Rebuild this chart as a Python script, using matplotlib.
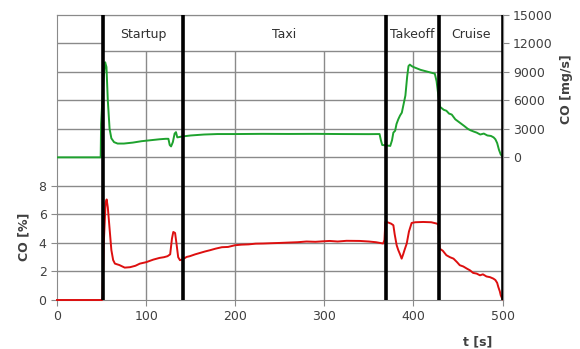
import matplotlib.pyplot as plt

# Фази руху та межі між ними (с)
phase_names = ['Startup', 'Taxi', 'Takeoff', 'Cruise']
phase_bounds = [52, 141, 369, 429, 500]

# CO [mg/s] — права вісь (зелена крива)
t_mgs = [0, 49, 49.5, 52, 54, 55.5, 57, 59, 61, 64, 68, 75, 85, 95, 105, 115, 122, 125,
         126.5, 128, 130, 132, 133.5, 135, 138, 141, 150, 165, 180, 200, 230, 260, 290,
         320, 350, 362, 363.5, 365, 370, 374, 376, 377.5, 379.5, 381, 383, 385, 387, 389,
         391, 393, 394.5, 396, 398, 400, 404, 408, 412, 416, 420, 424, 426, 428, 430, 434,
         437, 440, 443, 447, 452, 457, 461, 464, 468, 471, 475, 479, 483, 487, 490, 492,
         494, 496, 498, 500]
co_mgs = [0, 0, 3500, 8000, 10000, 9500, 6000, 3000, 2000, 1600, 1450, 1450, 1550, 1700,
          1800, 1900, 1950, 1950, 1300, 1150, 1600, 2500, 2650, 2100, 2150, 2200, 2300,
          2400, 2450, 2450, 2470, 2460, 2470, 2450, 2440, 2450, 1800, 1300, 1250, 1200,
          1800, 2600, 2800, 3500, 4000, 4400, 4700, 5600, 6500, 8500, 9600, 9750, 9600,
          9500, 9350, 9200, 9100, 9000, 8900, 8800, 8000, 6500, 5300, 5000, 4900, 4600,
          4500, 4000, 3650, 3300, 3000, 2850, 2700, 2600, 2400, 2500, 2300, 2250, 2100,
          1900, 1500, 800, 300, 100]

# CO [%] — ліва вісь (червона крива)
t_pct = [0, 50.5, 51, 52.5, 54.5, 55.7, 57, 59, 61, 63, 65, 70, 76, 82, 88, 93, 100, 108, 115,
         120, 124, 127, 129, 130.5, 132.5, 134, 136, 138, 141, 145.5, 149, 155, 160.5, 166,
         171.7, 178, 185, 192, 199.8, 207, 215, 223, 231.5, 240, 250, 261.5, 270, 280, 290,
         300, 306, 315, 325, 340, 350, 358, 366, 367.5, 368.5, 371.8, 375, 377.5, 379, 381.2,
         383, 385, 386.8, 388.5, 390, 392.5, 395, 398, 402, 411, 420, 426, 428, 429.5, 433,
         437, 441, 445, 449, 452, 456, 460, 463.5, 467, 471, 474.7, 478, 482, 486, 489.7,
         492, 494, 495.3, 497, 498, 500]
co_pct = [0, 0, 0.2, 4, 6.8, 7.05, 6.5, 5, 3.5, 2.8, 2.55, 2.45, 2.27, 2.3, 2.4, 2.55, 2.65,
          2.83, 2.95, 3.0, 3.07, 3.2, 4.3, 4.77, 4.7, 4.0, 3.0, 2.79, 2.85, 3.02, 3.07, 3.2,
          3.3, 3.4, 3.49, 3.6, 3.7, 3.72, 3.84, 3.88, 3.9, 3.95, 3.96, 3.98, 4.0, 4.03, 4.05,
          4.1, 4.08, 4.12, 4.14, 4.1, 4.15, 4.14, 4.1, 4.05, 3.96, 4.2, 5.47, 5.43, 5.35,
          5.24, 4.6, 3.84, 3.5, 3.2, 2.9, 3.2, 3.5, 3.96, 4.8, 5.4, 5.45, 5.47, 5.45, 5.36,
          5.3, 3.6, 3.45, 3.14, 3.0, 2.9, 2.65, 2.44, 2.35, 2.2, 2.08, 1.9, 1.85, 1.73, 1.8,
          1.65, 1.6, 1.5, 1.4, 1.2, 0.91, 0.6, 0.33, 0.05]

grid_c = '#8a8a8a'
text_c = '#404040'

fig = plt.figure(figsize=(5.8, 3.49), dpi=100)
ax = fig.add_axes([0.0983, 0.1404, 0.7681, 0.8175])
ax2 = ax.twinx()

ax.set_xlim(0, 500)
ax.set_ylim(0, 20)
ax2.set_ylim(-15000, 15000)

ax.set_xticks(range(0, 501, 100))
ax.set_yticks([0, 2, 4, 6, 8])
ax2.set_yticks(range(0, 15001, 3000))

# сітка
for yv in range(2, 20, 2):
    ax.axhline(yv, color=grid_c, lw=1, zorder=0)
for xv in range(100, 500, 100):
    ax.axvline(xv, color=grid_c, lw=1, zorder=0)

ax.plot(t_pct, co_pct, color='#dd0f0f', lw=1.4, zorder=3, clip_on=False)
ax2.plot(t_mgs, co_mgs, color='#1ea22e', lw=1.4, zorder=3)

# підписи фаз
for i, name in enumerate(phase_names):
    x0, x1 = phase_bounds[i], phase_bounds[i + 1]
    ax2.axvspan(x0, x1, ymin=0.872, ymax=1, facecolor='white', edgecolor=grid_c, lw=1, zorder=3)
    ax2.text((x0 + x1) / 2, 0.932, name, transform=ax2.get_xaxis_transform(),
             ha='center', va='center', fontsize=9, color='#303030', zorder=4)
for xb in phase_bounds:
    ax2.axvline(xb, color='black', lw=2.6, zorder=5)

for a in (ax, ax2):
    for s in a.spines.values():
        s.set_color(grid_c)
    a.tick_params(colors=grid_c, labelcolor=text_c, labelsize=9, length=4)
ax2.spines['bottom'].set_visible(False)
ax2.spines['left'].set_visible(False)

ax.set_ylabel('CO [%]', fontsize=9, fontweight='bold', color=text_c)
ax.yaxis.set_label_coords(-0.06, 0.22)
ax2.set_ylabel('CO [mg/s]', fontsize=9, fontweight='bold', color=text_c)
ax2.yaxis.set_label_coords(1.128, 0.74)
ax.set_xlabel('t [s]', fontsize=9, fontweight='bold', color=text_c)
ax.xaxis.set_label_coords(0.945, -0.125)

fig.savefig('out.png', dpi=100)
